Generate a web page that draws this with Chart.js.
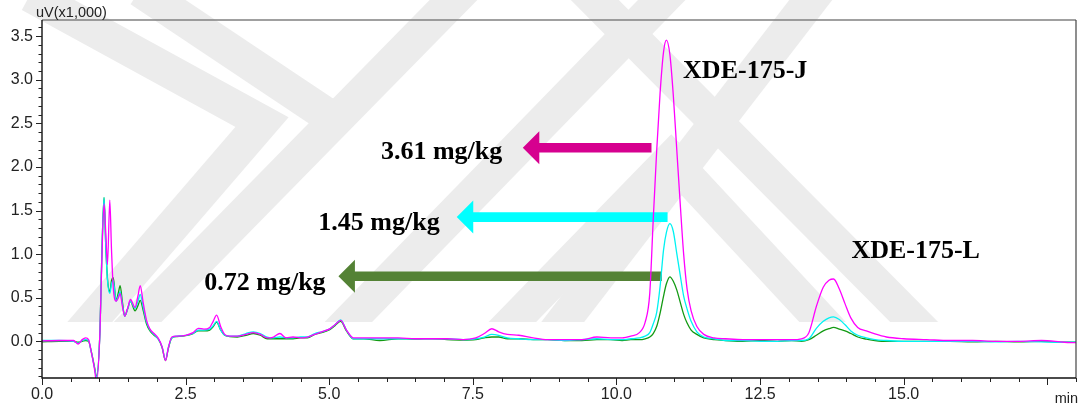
<!DOCTYPE html>
<html>
<head>
<meta charset="utf-8">
<script src="https://cdn.jsdelivr.net/npm/chart.js@4.4.1/dist/chart.umd.min.js"></script>
<style>
  html, body { margin: 0; padding: 0; background: #fff; }
  canvas { display: block; }
</style>
</head>
<body>
<canvas id="grafico" width="1088" height="412"></canvas>
<script>
// tempo de retenção (min)
const minutes = [
    0.00, 0.30, 0.55, 0.63, 0.70, 0.76, 0.81, 0.86, 0.91, 0.95,
    1.01, 1.04, 1.08, 1.11, 1.14, 1.18, 1.21, 1.24, 1.29, 1.33,
    1.36, 1.40, 1.44, 1.49, 1.54, 1.62, 1.67, 1.71, 1.76, 1.82,
    1.88, 1.95, 2.02, 2.09, 2.15, 2.20, 2.26, 2.35, 2.50, 2.63,
    2.72, 2.82, 2.92, 2.98, 3.04, 3.11, 3.18, 3.27, 3.40, 3.55,
    3.68, 3.80, 3.92, 4.03, 4.14, 4.25, 4.37, 4.50, 4.62, 4.75,
    4.87, 5.00, 5.10, 5.20, 5.30, 5.42, 5.60, 5.88, 6.20, 6.50,
    6.80, 7.05, 7.33, 7.55, 7.70, 7.83, 7.95, 8.10, 8.30, 8.55,
    8.80, 9.10, 9.40, 9.66, 9.90, 10.10, 10.25, 10.40, 10.50, 10.58,
    10.64, 10.70, 10.76, 10.82, 10.87, 10.93, 10.99, 11.05, 11.11, 11.17,
    11.23, 11.30, 11.40, 11.52, 11.70, 11.90, 12.20, 12.50, 12.80, 13.05,
    13.22, 13.35, 13.48, 13.60, 13.70, 13.78, 13.88, 13.98, 14.08, 14.20,
    14.35, 14.50, 14.70, 15.00, 15.40, 15.80, 16.20, 16.60, 17.00, 17.40,
    17.80, 18.00
];

// sinal (uV x1000) - 3.61 mg/kg
const trace361 = [
    0.005, 0.01, 0.01, -0.03, 0.02, 0.04, 0.02, -0.13, -0.30, -0.46,
    0.13, 0.90, 1.58, 1.25, 0.88, 1.62, 1.05, 0.62, 0.46, 0.50,
    0.55, 0.40, 0.29, 0.38, 0.48, 0.39, 0.52, 0.64, 0.45, 0.24,
    0.14, 0.09, 0.04, -0.06, -0.22, -0.07, 0.05, 0.06, 0.07, 0.10,
    0.15, 0.14, 0.16, 0.23, 0.30, 0.17, 0.08, 0.06, 0.06, 0.08,
    0.10, 0.08, 0.04, 0.05, 0.09, 0.04, 0.05, 0.04, 0.05, 0.08,
    0.11, 0.14, 0.19, 0.24, 0.13, 0.04, 0.04, 0.04, 0.04, 0.03,
    0.03, 0.03, 0.02, 0.04, 0.09, 0.145, 0.11, 0.08, 0.07, 0.04,
    0.02, 0.02, 0.02, 0.05, 0.04, 0.04, 0.06, 0.10, 0.22, 0.55,
    1.39, 2.18, 2.85, 3.32, 3.455, 3.29, 2.82, 2.20, 1.58, 1.00,
    0.60, 0.35, 0.17, 0.08, 0.04, 0.03, 0.02, 0.02, 0.02, 0.02,
    0.03, 0.10, 0.40, 0.62, 0.70, 0.715, 0.60, 0.43, 0.27, 0.16,
    0.12, 0.085, 0.05, 0.03, 0.02, 0.01, 0.01, 0.00, 0.00, 0.01,
    -0.01, -0.015
];

// sinal (uV x1000) - 1.45 mg/kg
const trace145 = [
    0.01, 0.01, 0.00, -0.02, 0.01, 0.02, 0.01, -0.13, -0.29, -0.41,
    0.14, 0.95, 1.65, 1.10, 0.70, 0.55, 0.66, 0.70, 0.46, 0.52,
    0.57, 0.42, 0.29, 0.37, 0.46, 0.38, 0.46, 0.54, 0.40, 0.22,
    0.13, 0.08, 0.03, -0.06, -0.21, -0.07, 0.04, 0.06, 0.07, 0.09,
    0.13, 0.13, 0.14, 0.18, 0.23, 0.13, 0.07, 0.06, 0.06, 0.09,
    0.11, 0.09, 0.05, 0.04, 0.05, 0.04, 0.04, 0.05, 0.05, 0.09,
    0.11, 0.14, 0.19, 0.245, 0.13, 0.03, 0.03, 0.03, 0.03, 0.03,
    0.03, 0.03, 0.02, 0.03, 0.05, 0.08, 0.07, 0.04, 0.03, 0.02,
    0.02, 0.01, 0.02, 0.03, 0.02, 0.02, 0.03, 0.04, 0.06, 0.10,
    0.20, 0.33, 0.63, 1.05, 1.25, 1.35, 1.26, 1.01, 0.76, 0.52,
    0.37, 0.23, 0.11, 0.05, 0.03, 0.01, 0.01, 0.00, 0.00, 0.01,
    0.01, 0.03, 0.15, 0.23, 0.27, 0.28, 0.25, 0.19, 0.12, 0.07,
    0.04, 0.02, 0.01, 0.00, 0.00, 0.00, 0.00, -0.005, 0.00, -0.005,
    -0.01, -0.01
];

// sinal (uV x1000) - 0.72 mg/kg
const trace072 = [
    -0.005, 0.00, 0.00, -0.01, 0.00, 0.01, 0.00, -0.12, -0.28, -0.40,
    0.14, 0.95, 1.65, 1.10, 0.72, 0.57, 0.70, 0.73, 0.47, 0.56,
    0.64, 0.45, 0.29, 0.37, 0.46, 0.35, 0.41, 0.47, 0.36, 0.20,
    0.12, 0.07, 0.03, -0.07, -0.22, -0.08, 0.04, 0.055, 0.065, 0.09,
    0.12, 0.12, 0.13, 0.17, 0.22, 0.13, 0.07, 0.055, 0.05, 0.07,
    0.09, 0.07, 0.03, 0.03, 0.03, 0.03, 0.03, 0.04, 0.04, 0.08,
    0.10, 0.13, 0.18, 0.23, 0.12, 0.03, 0.03, 0.01, 0.03, 0.025,
    0.03, 0.02, 0.015, 0.02, 0.04, 0.05, 0.05, 0.03, 0.03, 0.02,
    0.02, 0.01, 0.01, 0.02, 0.02, 0.01, 0.02, 0.02, 0.03, 0.05,
    0.09, 0.17, 0.325, 0.52, 0.66, 0.74, 0.69, 0.59, 0.45, 0.31,
    0.21, 0.13, 0.08, 0.04, 0.02, 0.01, 0.00, 0.01, 0.00, 0.01,
    0.00, 0.02, 0.07, 0.12, 0.145, 0.16, 0.14, 0.12, 0.09, 0.05,
    0.025, 0.01, 0.00, 0.00, 0.00, 0.00, -0.005, 0.00, -0.005, 0.00,
    -0.01, -0.01
];

const xLabelTicks = [0, 2.5, 5, 7.5, 10, 12.5, 15];
const yLabelTicks = [0, 0.5, 1, 1.5, 2, 2.5, 3, 3.5];

// setas e rótulos (em unidades dos eixos)
const setas = [
    { de: 10.61, ate: 8.37, nivel: 2.22, cor: '#d6008f', texto: '3.61 mg/kg', xTexto: 5.90, yTexto: 2.09 },
    { de: 10.89, ate: 7.22, nivel: 1.425, cor: '#00ffff', texto: '1.45 mg/kg', xTexto: 4.81, yTexto: 1.28 },
    { de: 10.79, ate: 5.16, nivel: 0.747, cor: '#548235', texto: '0.72 mg/kg', xTexto: 2.825, yTexto: 0.592 }
];
const picos = [
    { texto: 'XDE-175-J', x: 11.16, y: 3.017 },
    { texto: 'XDE-175-L', x: 14.09, y: 0.955 }
];

// marca d'água (faixas cinza ao fundo, em pixels do canvas)
const marcaDagua = [
    [[30, -5], [262, 122], [70, 345]],
    [[140, -10], [345, 127]],
    [[115, 345], [478, -25]],
    [[326, 345], [686, -25]],
    [[490, 345], [671, 159], [844, 345]],
    [[545, 345], [830, -25]],
    [[570, -25], [937, 345]]
];

const fonteEixo = '"Liberation Sans", Arial, sans-serif';
const fonteRotulo = 'bold 26px "Liberation Serif", "Times New Roman", serif';

const fundo = {
    id: 'fundo',
    beforeDraw(chart) {
        const ctx = chart.ctx;
        ctx.save();
        ctx.fillStyle = '#ffffff';
        ctx.fillRect(0, 0, chart.width, chart.height);
        ctx.beginPath();
        ctx.rect(0, 0, chart.width, 322);
        ctx.clip();
        ctx.strokeStyle = '#ececec';
        ctx.lineWidth = 34;
        ctx.lineJoin = 'miter';
        ctx.lineCap = 'butt';
        marcaDagua.forEach(faixa => {
            ctx.beginPath();
            faixa.forEach((p, i) => i === 0 ? ctx.moveTo(p[0], p[1]) : ctx.lineTo(p[0], p[1]));
            ctx.stroke();
        });
        ctx.restore();
    }
};

const anotacoes = {
    id: 'anotacoes',
    beforeDatasetsDraw(chart) {
        const ctx = chart.ctx;
        const xs = chart.scales.x;
        const ys = chart.scales.y;
        ctx.save();
        setas.forEach(s => {
            const y = ys.getPixelForValue(s.nivel);
            const x0 = xs.getPixelForValue(s.de);
            const xt = xs.getPixelForValue(s.ate);
            const cabeca = 16.5;
            ctx.fillStyle = s.cor;
            ctx.beginPath();
            ctx.moveTo(xt, y);
            ctx.lineTo(xt + cabeca, y - 16.5);
            ctx.lineTo(xt + cabeca, y - 4.8);
            ctx.lineTo(x0, y - 4.8);
            ctx.lineTo(x0, y + 4.8);
            ctx.lineTo(xt + cabeca, y + 4.8);
            ctx.lineTo(xt + cabeca, y + 16.5);
            ctx.closePath();
            ctx.fill();

            ctx.fillStyle = '#000';
            ctx.font = fonteRotulo;
            ctx.textAlign = 'left';
            ctx.textBaseline = 'alphabetic';
            ctx.fillText(s.texto, xs.getPixelForValue(s.xTexto), ys.getPixelForValue(s.yTexto));
        });
        picos.forEach(p => {
            ctx.fillStyle = '#000';
            ctx.font = fonteRotulo;
            ctx.textAlign = 'left';
            ctx.textBaseline = 'alphabetic';
            ctx.fillText(p.texto, xs.getPixelForValue(p.x), ys.getPixelForValue(p.y));
        });
        ctx.restore();
    }
};

// moldura, marcas dos eixos e unidades
const moldura = {
    id: 'moldura',
    afterDatasetsDraw(chart) {
        const ctx = chart.ctx;
        const {left, right, top, bottom} = chart.chartArea;
        const xs = chart.scales.x;
        const ys = chart.scales.y;
        ctx.save();

        ctx.strokeStyle = '#808080';
        ctx.lineWidth = 1.6;
        ctx.beginPath();
        ctx.moveTo(left, top);
        ctx.lineTo(right, top);
        ctx.stroke();

        ctx.strokeStyle = '#444';
        ctx.lineWidth = 1.2;
        ctx.beginPath();
        ctx.moveTo(right, top);
        ctx.lineTo(right, bottom);
        ctx.stroke();

        ctx.strokeStyle = '#111';
        ctx.lineWidth = 1.4;
        ctx.beginPath();
        ctx.moveTo(left, top);
        ctx.lineTo(left, bottom);
        ctx.lineTo(right, bottom);
        ctx.stroke();

        ctx.lineWidth = 1;
        ctx.strokeStyle = '#222';
        ctx.beginPath();
        for (let i = 0; i <= 36; i++) {
            const v = i * 0.5;
            const x = Math.round(xs.getPixelForValue(v)) + 0.5;
            const len = (i % 5 === 0) ? 7 : 4;
            ctx.moveTo(x, bottom);
            ctx.lineTo(x, bottom + len);
        }
        for (let i = -4; i <= 36; i++) {
            const v = i / 10;
            const y = Math.round(ys.getPixelForValue(v)) + 0.5;
            const len = (i % 5 === 0) ? 6 : 3.5;
            ctx.moveTo(left - len, y);
            ctx.lineTo(left, y);
        }
        ctx.stroke();

        ctx.fillStyle = '#222';
        ctx.font = '14.5px ' + fonteEixo;
        ctx.textAlign = 'left';
        ctx.textBaseline = 'alphabetic';
        ctx.fillText('uV(x1,000)', 36, 17);
        ctx.textAlign = 'right';
        ctx.fillText('min', 1078, 403);
        ctx.restore();
    }
};

const ctx = document.getElementById('grafico').getContext('2d');

const serie = (valores) => minutes.map((t, i) => ({ x: t, y: valores[i] }));

new Chart(ctx, {
    type: 'line',
    data: {
        datasets: [
            { label: '3.61 mg/kg', data: serie(trace361), borderColor: '#ff00ff' },
            { label: '1.45 mg/kg', data: serie(trace145), borderColor: '#00f2f2' },
            { label: '0.72 mg/kg', data: serie(trace072), borderColor: '#139a13' }
        ]
    },
    options: {
        responsive: false,
        devicePixelRatio: 1,
        animation: false,
        layout: { padding: { top: 20, right: 12, left: 0, bottom: 0 } },
        elements: {
            point: { radius: 0 },
            line: { borderWidth: 1.3, fill: false, cubicInterpolationMode: 'monotone' }
        },
        plugins: {
            legend: { display: false },
            tooltip: { enabled: false }
        },
        scales: {
            x: {
                type: 'linear',
                min: 0,
                max: 18,
                afterBuildTicks: s => { s.ticks = xLabelTicks.map(v => ({ value: v })); },
                afterFit: s => { s.height = 34; },
                grid: { display: false, drawTicks: false },
                border: { display: false },
                ticks: {
                    autoSkip: false,
                    maxRotation: 0,
                    padding: 7,
                    color: '#222',
                    font: { family: fonteEixo, size: 16 },
                    callback: v => Number(v).toFixed(1)
                }
            },
            y: {
                type: 'linear',
                min: -0.42,
                max: 3.685,
                afterBuildTicks: s => { s.ticks = yLabelTicks.map(v => ({ value: v })); },
                afterFit: s => { s.width = 42; },
                grid: { display: false, drawTicks: false },
                border: { display: false },
                ticks: {
                    padding: 9,
                    color: '#222',
                    font: { family: fonteEixo, size: 16 },
                    callback: v => Number(v).toFixed(1)
                }
            }
        }
    },
    plugins: [fundo, anotacoes, moldura]
});
</script>
</body>
</html>
